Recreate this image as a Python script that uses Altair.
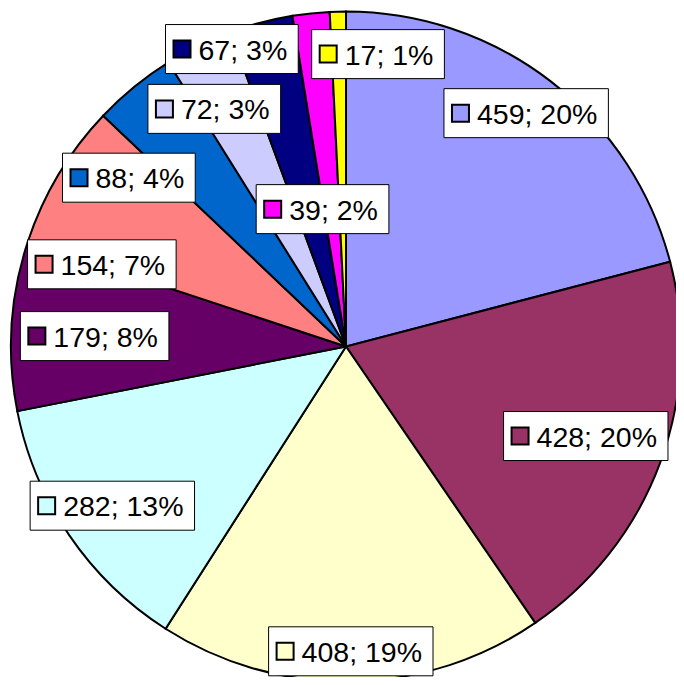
import altair as alt
import pandas as pd

values = [459, 428, 408, 282, 179, 154, 88, 72, 67, 39, 17]
labels = ["459; 20%", "428; 20%", "408; 19%", "282; 13%", "179; 8%", "154; 7%",
          "88; 4%", "72; 3%", "67; 3%", "39; 2%", "17; 1%"]
colors = ["#9999FF", "#993366", "#FFFFCC", "#CCFFFF", "#660066", "#FF8080",
          "#0066CC", "#CCCCFF", "#000080", "#FF00FF", "#FFFF00"]

# label layout: distance from centre as a fraction of the pie radius,
# and angular shift (degrees) from the slice's middle angle
label_radius = [0.88, 0.764, 0.91, 0.844, 0.751, 0.769, 0.821, 0.811, 0.951, 0.416, 0.878]
label_shift = [0, 0, 0, 0, -1.2, -12.3, -12.9, -2.9, -6.3, -3.7, 7.65]

W, H = 668, 669
CX, CY = 338, 338.5        # pie centre in pixels (from top-left of the chart)
R = 335
FS = 28.5

df = pd.DataFrame({"idx": list(range(len(values))), "value": values, "label": labels,
                   "lr": label_radius, "shiftdeg": label_shift})

base = alt.Chart(df)
color = alt.Color("label:N", scale=alt.Scale(domain=labels, range=colors), legend=None)

pie = base.mark_arc(radius=R, stroke="black", strokeWidth=2).encode(
    theta=alt.Theta("value:Q", stack=True),
    order=alt.Order("idx:Q", sort="ascending"),
    color=color,
    x=alt.value(CX),
    y=alt.value(CY),
)

lab = base.transform_joinaggregate(total="sum(value)").transform_window(
    cum="sum(value)", sort=[alt.SortField("idx", order="ascending")], frame=[None, 0]
).transform_calculate(
    ang="((datum.cum - datum.value/2)/datum.total*360 + datum.shiftdeg) * PI/180"
).transform_calculate(
    cx=f"{CX} + datum.lr*{R}*sin(datum.ang)",
    cy=f"{H - CY} + datum.lr*{R}*cos(datum.ang)",
    bw=f"((length(datum.label)-3)*0.556 + 1.445)*{FS} + 44",
).transform_calculate(
    bx="datum.cx - datum.bw/2",
    bx2="datum.cx + datum.bw/2",
    by="datum.cy - 24.5",
    by2="datum.cy + 24.5",
).transform_calculate(
    sqx="datum.bx + 16.5",
    tx="datum.bx + 33",
)

xs = alt.Scale(domain=[0, W], nice=False, zero=False)
ys = alt.Scale(domain=[0, H], nice=False, zero=False)

box = lab.mark_rect(fill="white", stroke="black", strokeWidth=1).encode(
    x=alt.X("bx:Q", scale=xs, axis=None), x2="bx2:Q",
    y=alt.Y("by:Q", scale=ys, axis=None), y2="by2:Q",
)

sq = lab.mark_point(shape="square", size=289, filled=True, opacity=1,
                    stroke="black", strokeWidth=2).encode(
    x=alt.X("sqx:Q", scale=xs, axis=None),
    y=alt.Y("cy:Q", scale=ys, axis=None),
    fill=alt.Fill("label:N", scale=alt.Scale(domain=labels, range=colors), legend=None),
)

txt = lab.mark_text(align="left", baseline="alphabetic", dy=10.5,
                    font="Liberation Sans", fontSize=FS, color="black").encode(
    x=alt.X("tx:Q", scale=xs, axis=None),
    y=alt.Y("cy:Q", scale=ys, axis=None),
    text="label:N",
)

chart = alt.layer(pie, box, sq, txt).properties(
    width=W, height=H, padding=0,
    autosize=alt.AutoSizeParams(type="none"),
).configure_view(stroke=None)

chart.save("out.html", embed_options={"renderer": "svg", "actions": False})
